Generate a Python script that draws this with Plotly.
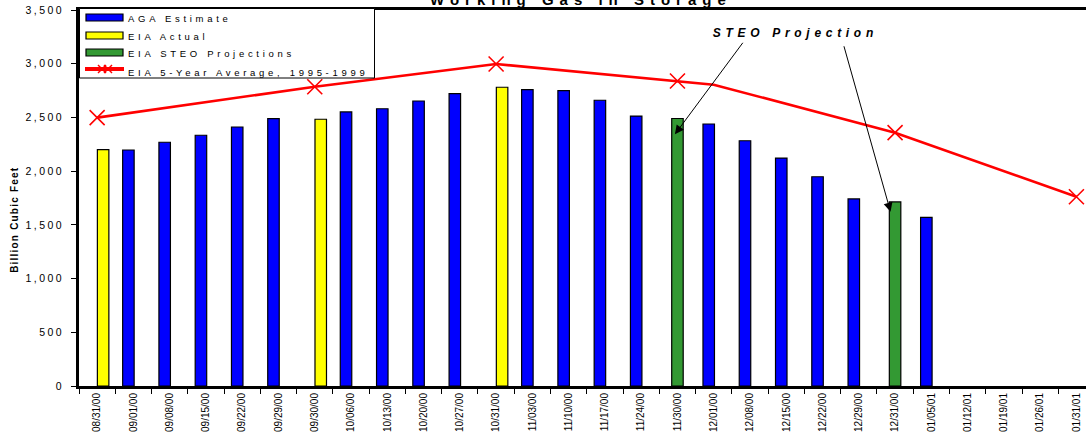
import plotly.graph_objects as go
import pandas as pd

# ---------------- data ----------------
categories = ["08/31/00", "09/01/00", "09/08/00", "09/15/00", "09/22/00", "09/29/00", "09/30/00",
              "10/06/00", "10/13/00", "10/20/00", "10/27/00", "10/31/00", "11/03/00", "11/10/00",
              "11/17/00", "11/24/00", "11/30/00", "12/01/00", "12/08/00", "12/15/00", "12/22/00",
              "12/29/00", "12/31/00", "01/05/01", "01/12/01", "01/19/01", "01/26/01", "01/31/01"]

aga_estimate = [None, 2197, 2269, 2334, 2411, 2488, None,
                2551, 2581, 2653, 2721, None, 2758, 2749,
                2660, 2513, None, 2439, 2283, 2122, 1948,
                1741, None, 1570, None, None, None, None]

eia_actual = [2200, None, None, None, None, None, 2483,
              None, None, None, None, 2781, None, None,
              None, None, None, None, None, None, None,
              None, None, None, None, None, None, None]

steo_projection = [None, None, None, None, None, None, None,
                   None, None, None, None, None, None, None,
                   None, None, 2490, None, None, None, None,
                   None, 1713, None, None, None, None, None]

five_year_avg = [2498, None, None, None, None, None, 2786,
                 None, None, None, None, 2997, None, None,
                 None, None, 2839, 2805, None, None, None,
                 None, 2358, None, None, None, None, 1762]

y_ticks = [0, 500, 1000, 1500, 2000, 2500, 3000, 3500]

# ---------------- layout geometry ----------------
FIG_W, FIG_H = 1086, 435
ML, MR, MT, MB = 79, 0, 10, 49
PW, PH = FIG_W - ML - MR, FIG_H - MT - MB
CAT_PX = 36.27
XMAX = -0.5 + PW / CAT_PX
YMAX = 3500


def xp(px):
    return (px - ML) / PW


def yp(py):
    return (FIG_H - MB - py) / PH


idx = list(range(len(categories)))
BAR_W = 0.317

FONT = "Liberation Sans, Arial, sans-serif"

fig = go.Figure()

fig.add_trace(go.Bar(x=idx, y=aga_estimate, name="AGA Estimate", width=BAR_W,
                     offset=-0.138 - BAR_W / 2,
                     marker=dict(color="#0000FF", line=dict(color="#000000", width=1.2)),
                     showlegend=False))
fig.add_trace(go.Bar(x=idx, y=eia_actual, name="EIA Actual", width=BAR_W,
                     offset=0.165 - BAR_W / 2,
                     marker=dict(color="#FFFF00", line=dict(color="#000000", width=1.2)),
                     showlegend=False))
fig.add_trace(go.Bar(x=idx, y=steo_projection, name="EIA STEO Projections", width=BAR_W,
                     offset=-BAR_W / 2,
                     marker=dict(color="#339933", line=dict(color="#000000", width=1.2)),
                     showlegend=False))

avg_x = [i for i, v in zip(idx, five_year_avg) if v is not None]
avg_y = [v for v in five_year_avg if v is not None]
fig.add_trace(go.Scatter(x=avg_x, y=avg_y, mode="lines", name="EIA 5-Year Average, 1995-1999",
                         line=dict(color="#FF0000", width=2.6), showlegend=False))

month_end = [pd.Timestamp(pd.to_datetime(c, format="%m/%d/%y")).is_month_end for c in categories]
mk_x = [i for i, v, m in zip(idx, five_year_avg, month_end) if v is not None and m]
mk_y = [five_year_avg[i] for i in mk_x]
fig.add_trace(go.Scatter(x=mk_x, y=mk_y, mode="markers", showlegend=False, hoverinfo="skip",
                         marker=dict(symbol="x-thin", size=15,
                                     line=dict(color="#FF0000", width=1.6))))

# ---------------- custom legend ----------------
shapes = []
shapes.append(dict(type="rect", xref="paper", yref="paper", layer="above",
                   x0=xp(79.5), x1=xp(374.5), y0=yp(78), y1=yp(8.5),
                   fillcolor="white", line=dict(color="black", width=1)))
legend_rows = [("AGA Estimate", "#0000FF", 17.5),
               ("EIA Actual", "#FFFF00", 35.5),
               ("EIA STEO Projections", "#339933", 52.5)]
annotations = []
for name, col, cy in legend_rows:
    shapes.append(dict(type="rect", xref="paper", yref="paper", layer="above",
                       x0=xp(86), x1=xp(123), y0=yp(cy + 3.5), y1=yp(cy - 3.5),
                       fillcolor=col, line=dict(color="black", width=1.2)))
    annotations.append(dict(text=name, xref="paper", yref="paper", x=xp(126), y=yp(cy + 1),
                            xanchor="left", yanchor="middle", align="left", showarrow=False,
                            font=dict(family=FONT, size=9.5, color="black")))
shapes.append(dict(type="line", xref="paper", yref="paper", layer="above",
                   x0=xp(85), x1=xp(124), y0=yp(69), y1=yp(69),
                   line=dict(color="#FF0000", width=4)))
for dx in (-3, 3):
    shapes.append(dict(type="line", xref="paper", yref="paper", layer="above",
                       x0=xp(105 + dx - 4), x1=xp(105 + dx + 4), y0=yp(65), y1=yp(73),
                       line=dict(color="#FF0000", width=1.5)))
    shapes.append(dict(type="line", xref="paper", yref="paper", layer="above",
                       x0=xp(105 + dx - 4), x1=xp(105 + dx + 4), y0=yp(73), y1=yp(65),
                       line=dict(color="#FF0000", width=1.5)))
annotations.append(dict(text="EIA 5-Year Average, 1995-1999", xref="paper", yref="paper",
                        x=xp(126), y=yp(72), xanchor="left", yanchor="middle", align="left",
                        showarrow=False,
                        font=dict(family=FONT, size=9.5, color="black")))

# title (cut off at top, as in reference)
annotations.append(dict(text="Working Gas in Storage", xref="paper", yref="paper",
                        x=xp(581), y=yp(10), xanchor="center", yanchor="bottom", showarrow=False,
                        font=dict(family=FONT, size=15, color="black", weight="bold")))

# y-axis title
annotations.append(dict(text="Billion Cubic Feet", xref="paper", yref="paper",
                        x=xp(14), y=yp(220), xanchor="center", yanchor="middle", showarrow=False,
                        textangle=-90,
                        font=dict(family=FONT, size=10, color="black", weight="bold")))

# STEO projection callout
annotations.append(dict(text="STEO Projection", xref="paper", yref="paper",
                        x=xp(795), y=yp(33), xanchor="center", yanchor="middle", showarrow=False,
                        font=dict(family=FONT, size=12, color="black", weight="bold",
                                  style="italic")))
annotations.append(dict(text="", x=15.93, y=2343, xref="x", yref="y", ax=69, ay=-93,
                        showarrow=True, arrowhead=2, arrowsize=1.8, arrowwidth=1,
                        arrowcolor="black", standoff=0))
annotations.append(dict(text="", x=21.875, y=1622, xref="x", yref="y", ax=-47, ay=-167,
                        showarrow=True, arrowhead=2, arrowsize=1.8, arrowwidth=1,
                        arrowcolor="black", standoff=0))

fig.update_layout(
    width=FIG_W, height=FIG_H,
    margin=dict(l=ML, r=MR, t=MT, b=MB, pad=0),
    paper_bgcolor="white", plot_bgcolor="white",
    barmode="overlay",
    showlegend=False,
    font=dict(family=FONT, color="black"),
    shapes=shapes,
    annotations=annotations,
    xaxis=dict(range=[-0.5, XMAX], tickmode="array", tickvals=idx, ticktext=categories,
               tickangle=-90, ticks="", showgrid=False, zeroline=False,
               showline=True, linecolor="black", linewidth=3, mirror=True,
               tickfont=dict(family=FONT, size=10, color="black"),
               minor=dict(tickmode="array", tickvals=[i - 0.5 for i in idx] + [idx[-1] + 0.5],
                          ticks="outside", ticklen=5, tickcolor="black", tickwidth=1,
                          showgrid=False),
               automargin=False, fixedrange=True),
    yaxis=dict(range=[0, YMAX], tickmode="array", tickvals=y_ticks, tickformat=",",
               ticks="outside", ticklen=5, tickcolor="black", tickwidth=1,
               showgrid=False, zeroline=False, showline=True, linecolor="black", linewidth=3,
               mirror=False, ticklabelstandoff=5,
               tickfont=dict(family=FONT, size=10.5, color="black"),
               automargin=False, fixedrange=True),
)

post = """
document.body.style.margin = '0px';
document.body.style.overflow = 'hidden';
var gd = document.getElementById('{plot_id}');
var sp = {"Working Gas in Storage": "6px", "AGA Estimate": "3.7px", "EIA Actual": "3.7px",
          "EIA STEO Projections": "3.7px", "EIA 5-Year Average, 1995-1999": "3.7px",
          "STEO Projection": "4.7px", "Billion Cubic Feet": "1.2px"};
function applySpacing() {
  gd.querySelectorAll('text').forEach(function (t) {
    var s = t.textContent;
    if (Object.prototype.hasOwnProperty.call(sp, s)) { t.style.letterSpacing = sp[s]; }
  });
  gd.querySelectorAll('.ytick text').forEach(function (t) { t.style.letterSpacing = '2.4px'; });
}
applySpacing();
gd.on('plotly_afterplot', applySpacing);
"""

fig.write_html("out.html", post_script=post, config={"displayModeBar": False})
